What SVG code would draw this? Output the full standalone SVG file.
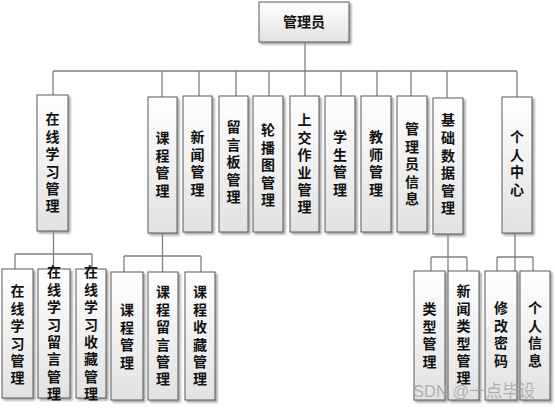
<svg xmlns="http://www.w3.org/2000/svg" width="555" height="408" viewBox="0 0 555 408">
<defs>
<linearGradient id="g" x1="0" y1="0" x2="0" y2="1">
<stop offset="0" stop-color="#ffffff"/>
<stop offset="1" stop-color="#e2e2e2"/>
</linearGradient>
<filter id="sh" x="-20%" y="-10%" width="150%" height="130%">
<feDropShadow dx="2" dy="2" stdDeviation="1" flood-color="#8c8c8c" flood-opacity="0.8"/>
</filter>
</defs>
<style>
.b{fill:url(#g);stroke:#5a5a5a;stroke-width:1;filter:url(#sh)}
.t{font-family:"Noto Sans CJK SC","Liberation Sans",sans-serif;font-size:14px;font-weight:bold;fill:#111;text-anchor:middle}
.v{font-family:"Noto Sans CJK SC","Liberation Sans",sans-serif;font-size:14px;font-weight:bold;fill:#111;writing-mode:vertical-rl;text-anchor:start;letter-spacing:3.4px}
.c{fill:none;stroke:#808080;stroke-width:1.3}
.w{font-family:"Liberation Sans","Noto Sans CJK SC",sans-serif;font-size:16.5px;fill:#a8a8a8;fill-opacity:0.9}
</style>
<rect width="555" height="408" fill="#ffffff"/>
<g id="connectors" class="c">
<path d="M305 42V96M53 71H517M53 71V95M162 71V97M199 71V96M236 71V96M269 71V96M341 71V96M377 71V96M411 71V96M447 71V98M517 71V97"/>
<path d="M53.5 231V269M15 254H92M15 254V269M92 254V269"/>
<path d="M162.5 233V272M124 256H201M124 256V272M201 256V272"/>
<path d="M448 234V271M431 257H467M431 257V271M467 257V271"/>
<path d="M515 233V271M497 257H533M497 257V271M533 257V271"/>
</g>
<g id="admin"><rect class="b" x="259" y="2" width="90" height="40"/><text class="t" x="304" y="27">管理员</text></g>
<g id="n1"><rect class="b" x="37" y="95" width="31" height="136"/><text class="v" x="52.5" y="112">在线学习管理</text></g>
<g id="n2"><rect class="b" x="148" y="97" width="29" height="136"/><text class="v" x="162.5" y="131">课程管理</text></g>
<g id="n3"><rect class="b" x="183" y="96" width="29" height="136"/><text class="v" x="197.5" y="130">新闻管理</text></g>
<g id="n4"><rect class="b" x="219" y="96" width="29" height="136"/><text class="v" x="233.5" y="120">留言板管理</text></g>
<g id="n5"><rect class="b" x="253" y="96" width="30" height="136"/><text class="v" x="268" y="123">轮播图管理</text></g>
<g id="n6"><rect class="b" x="290" y="96" width="29" height="136"/><text class="v" x="304.5" y="113">上交作业管理</text></g>
<g id="n7"><rect class="b" x="325" y="96" width="30" height="136"/><text class="v" x="340" y="130">学生管理</text></g>
<g id="n8"><rect class="b" x="361" y="96" width="30" height="136"/><text class="v" x="376" y="130">教师管理</text></g>
<g id="n9"><rect class="b" x="397" y="96" width="30" height="136"/><text class="v" x="412" y="122">管理员信息</text></g>
<g id="n10"><rect class="b" x="433" y="98" width="30" height="136"/><text class="v" x="448" y="113" style="letter-spacing:3.6px">基础数据管理</text></g>
<g id="n11"><rect class="b" x="502" y="97" width="30" height="136"/><text class="v" x="517" y="130">个人中心</text></g>
<g id="c1"><rect class="b" x="2" y="269" width="31" height="129"/><text class="v" x="17.5" y="284">在线学习管理</text></g>
<g id="c2"><rect class="b" x="38" y="269" width="32" height="129"/><text class="v" x="54" y="265">在线学习留言管理</text></g>
<g id="c3"><rect class="b" x="76" y="269" width="30" height="129"/><text class="v" x="91" y="265">在线学习收藏管理</text></g>
<g id="c4"><rect class="b" x="111" y="272" width="32" height="128"/><text class="v" x="127" y="303">课程管理</text></g>
<g id="c5"><rect class="b" x="148" y="272" width="30" height="128"/><text class="v" x="163" y="285">课程留言管理</text></g>
<g id="c6"><rect class="b" x="185" y="272" width="30" height="128"/><text class="v" x="200" y="285">课程收藏管理</text></g>
<g id="c7"><rect class="b" x="414" y="271" width="31" height="129"/><text class="v" x="429.5" y="302">类型管理</text></g>
<g id="c8"><rect class="b" x="448" y="271" width="31" height="129"/><text class="v" x="463.5" y="284">新闻类型管理</text></g>
<g id="c9"><rect class="b" x="485" y="271" width="32" height="129"/><text class="v" x="501" y="301">修改密码</text></g>
<g id="c10"><rect class="b" x="520" y="271" width="30" height="129"/><text class="v" x="535" y="301">个人信息</text></g>
<text class="w" x="413" y="397">SDN @一点毕设</text>
</svg>
